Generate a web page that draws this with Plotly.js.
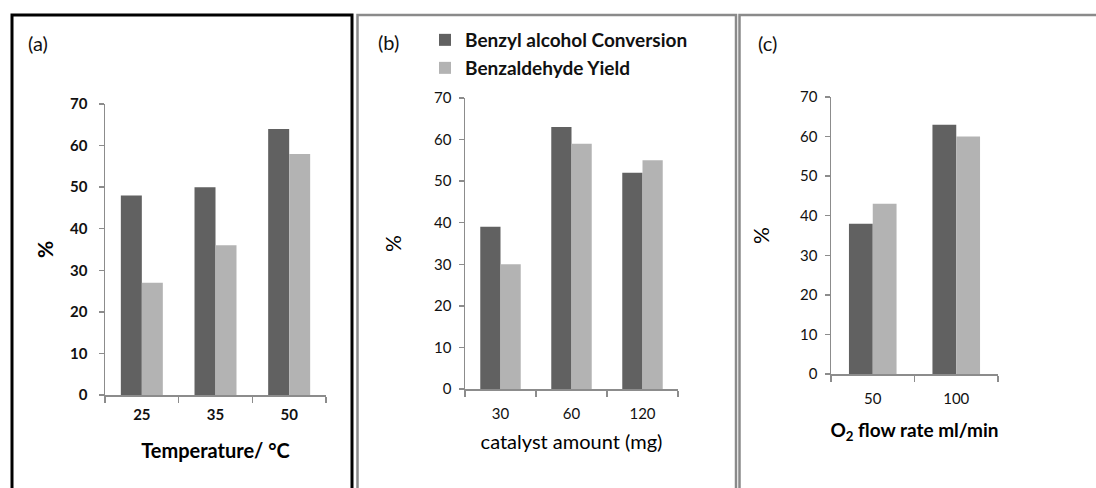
<!DOCTYPE html>
<html>
<head>
<meta charset="utf-8">
<script src="https://cdn.plot.ly/plotly-3.0.1.min.js"></script>
<style>html,body{margin:0;padding:0;background:#fff;}#chart{width:1096px;height:488px;}</style>
</head>
<body>
<div id="chart"></div>
<script>
// ---- data ----
const seriesNames = ['Benzyl alcohol Conversion', 'Benzaldehyde Yield'];
const catsA = ['25', '35', '50'];
const convA = [48, 50, 64];
const yieldA = [27, 36, 58];
const catsB = ['30', '60', '120'];
const convB = [39, 63, 52];
const yieldB = [30, 59, 55];
const catsC = ['50', '100'];
const convC = [38, 63];
const yieldC = [43, 60];
const yTicks = [0, 10, 20, 30, 40, 50, 60, 70];

// ---- styles ----
const W = 1096, H = 488;
const DARK = '#616161', LIGHT = '#b3b3b3';
const FONT = 'Lato, "Open Sans", sans-serif';
const px = v => v / W;
const py = v => 1 - v / H;

function bar(x, y, name, color, xa, ya, showlegend, legend) {
  const t = {type: 'bar', x: x, y: y, name: name, marker: {color: color, line: {width: 0}},
          xaxis: xa, yaxis: ya, showlegend: showlegend, hoverinfo: 'x+y+name'};
  if (legend) t.legend = legend;
  return t;
}

const data = [
  bar(catsA, convA, seriesNames[0], DARK, 'x', 'y', false),
  bar(catsA, yieldA, seriesNames[1], LIGHT, 'x', 'y', false),
  bar(catsB, convB, seriesNames[0], DARK, 'x2', 'y2', true, 'legend'),
  bar(catsB, yieldB, seriesNames[1], LIGHT, 'x2', 'y2', true, 'legend2'),
  bar(catsC, convC, seriesNames[0], DARK, 'x3', 'y3', false),
  bar(catsC, yieldC, seriesNames[1], LIGHT, 'x3', 'y3', false)
];

function xaxis(domain, anchor, title, tickBold, titleBold, labelStandoff, standoff, titleSize) {
  return {domain: domain, anchor: anchor, type: 'category', showline: true, linecolor: '#8c8c8c', linewidth: 1.5,
    ticks: 'outside', tickson: 'boundaries', ticklen: 6, tickcolor: '#8c8c8c', tickwidth: 1.5,
    ticklabelstandoff: labelStandoff,
    showgrid: false, zeroline: false, fixedrange: true,
    tickfont: {family: FONT, size: 15, color: '#111', weight: tickBold ? 'bold' : 'normal'},
    title: {text: title, standoff: standoff, font: {family: FONT, size: titleSize, color: '#000', weight: titleBold ? 'bold' : 'normal'}}};
}
function yaxis(domain, anchor, bold, labelStandoff, standoff) {
  return {domain: domain, anchor: anchor, range: [0, 70], tickvals: yTicks, showline: true, linecolor: '#8c8c8c', linewidth: 1.5,
    ticks: 'outside', ticklen: 5, tickcolor: '#8c8c8c', tickwidth: 1.5, ticklabelstandoff: labelStandoff,
    showgrid: false, zeroline: false, fixedrange: true,
    tickfont: {family: FONT, size: 15, color: '#111', weight: bold ? 'bold' : 'normal'},
    title: {text: '%', standoff: standoff, font: {family: FONT, size: 21, color: '#000', weight: bold ? 'bold' : 'normal'}}};
}

const layout = {
  width: W, height: H, margin: {l: 0, r: 0, t: 0, b: 0},
  paper_bgcolor: '#fff', plot_bgcolor: '#fff',
  barmode: 'group', bargap: 0.43, bargroupgap: 0,
  xaxis: xaxis([px(105), px(326)], 'y', 'Temperature/ °C', true, true, 5, 22, 20),
  yaxis: yaxis([py(395), py(104)], 'x', true, 8, 10),
  xaxis2: xaxis([px(465), px(678)], 'y2', 'catalyst amount (mg)', false, false, 10, 14, 20),
  yaxis2: yaxis([py(389), py(98)], 'x2', false, 4, 26),
  xaxis3: xaxis([px(831), px(998)], 'y3', 'O<sub>2</sub> flow rate ml/min', false, true, 10, 18, 19),
  yaxis3: yaxis([py(374), py(97)], 'x3', false, 4, 24),
  legend: {x: px(425), y: py(21), xanchor: 'left', yanchor: 'top', bgcolor: 'rgba(0,0,0,0)',
    font: {family: FONT, size: 19, color: '#111', weight: 'bold'}},
  legend2: {x: px(425), y: py(49), xanchor: 'left', yanchor: 'top', bgcolor: 'rgba(0,0,0,0)',
    font: {family: FONT, size: 19, color: '#111', weight: 'bold'}},
  annotations: [
    {text: '(a)', x: px(26), y: py(43), xref: 'paper', yref: 'paper', xanchor: 'left', yanchor: 'middle', showarrow: false,
     font: {family: FONT, size: 20, color: '#111'}},
    {text: '(b)', x: px(376), y: py(42), xref: 'paper', yref: 'paper', xanchor: 'left', yanchor: 'middle', showarrow: false,
     font: {family: FONT, size: 20, color: '#111'}},
    {text: '(c)', x: px(756), y: py(43), xref: 'paper', yref: 'paper', xanchor: 'left', yanchor: 'middle', showarrow: false,
     font: {family: FONT, size: 20, color: '#111'}}
  ],
  shapes: [
    {type: 'rect', xref: 'paper', yref: 'paper', x0: px(12), x1: px(352), y0: -0.1, y1: py(15),
     line: {color: '#000', width: 3}, fillcolor: 'rgba(0,0,0,0)'},
    {type: 'rect', xref: 'paper', yref: 'paper', x0: px(357.5), x1: px(736), y0: -0.1, y1: py(15),
     line: {color: '#8a8a8a', width: 2.5}, fillcolor: 'rgba(0,0,0,0)'},
    {type: 'rect', xref: 'paper', yref: 'paper', x0: px(739.5), x1: px(1110), y0: -0.1, y1: py(15),
     line: {color: '#8a8a8a', width: 2.5}, fillcolor: 'rgba(0,0,0,0)'}
  ]
};

Plotly.newPlot('chart', data, layout, {displayModeBar: false, staticPlot: true});
</script>
</body>
</html>
